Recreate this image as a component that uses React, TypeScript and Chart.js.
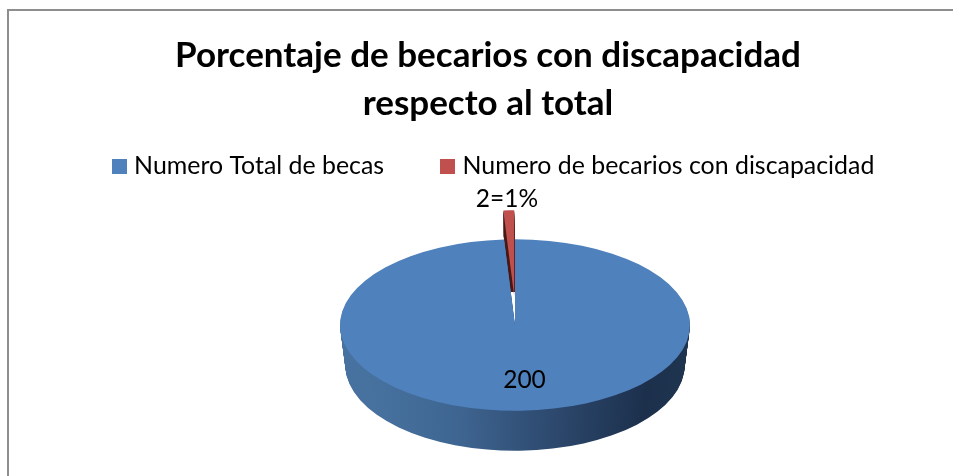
import React, { useEffect, useRef } from "react";
import { Chart, registerables } from "chart.js";

Chart.register(...registerables);

const titleLines = ["Porcentaje de becarios con discapacidad", "respecto al total"];
const categories = ["Numero Total de becas", "Numero de becarios con discapacidad"];
const values = [200, 2];
const percentLabel = ["", "1%"];
const colors = ["#4f81bd", "#c0504d"];

const FONT = "Lato, Carlito, Calibri, sans-serif";
const CX = 515;
const CY = 325;
const FLATTEN = 0.49;
const DEPTH = 40;
const RED_DEPTH = 25;

function swatch(color: string) {
  const c = document.createElement("canvas");
  c.width = 15;
  c.height = 15;
  const g = c.getContext("2d")!;
  g.fillStyle = color;
  g.fillRect(0, 0, 15, 15);
  return c;
}

const pie3d = {
  id: "pie3d",
  afterLayout(chart: any) {
    // the reference legend sits a little right of the title's centre
    chart.legend.left += 15;
  },
  beforeDatasetsDraw(chart: any) {
    const ctx = chart.ctx as CanvasRenderingContext2D;
    const arcs = chart.getDatasetMeta(0).data as any[];
    const blue = arcs[0];
    const red = arcs[1];

    const layer = (arc: any, k: number, fill: any, dx = 0, dy = 0) => {
      const saved = arc.options;
      arc.options = { ...saved, backgroundColor: fill };
      ctx.save();
      ctx.translate(CX + dx, CY + dy + k);
      ctx.scale(1 - (0.03 * k) / DEPTH, FLATTEN);
      ctx.translate(-arc.x, -arc.y);
      arc.draw(ctx);
      ctx.restore();
      arc.options = saved;
    };

    const grad = ctx.createLinearGradient(CX - 175, 0, CX + 175, 0);
    grad.addColorStop(0, "#47729f");
    grad.addColorStop(0.25, "#3f6692");
    grad.addColorStop(0.5, "#2f4c72");
    grad.addColorStop(0.8, "#1c304c");
    grad.addColorStop(1, "#203751");

    const ex = -0.8;
    const ey = -29;
    // the dark inner wall of the pulled-out slice fades before the centre
    ctx.save();
    ctx.beginPath();
    ctx.rect(0, 0, chart.width, CY - 33);
    ctx.clip();
    for (let k = RED_DEPTH; k >= 1; k--) layer(red, k, "#4a1a18", ex, ey);
    ctx.restore();
    for (let k = DEPTH; k >= 1; k--) layer(blue, k, grad);
    layer(blue, 0, colors[0]);
    layer(red, 0, colors[1], ex, ey);

    ctx.save();
    ctx.fillStyle = "#000";
    ctx.font = `24.5px ${FONT}`;
    ctx.textAlign = "center";
    ctx.textBaseline = "middle";
    ctx.fillText(String(values[0]), CX + 9.5, CY + 55.5);
    ctx.fillText(`${values[1]}=${percentLabel[1]}`, CX - 8, CY - 126);
    ctx.restore();
    return false;
  },
};

export default function App() {
  const ref = useRef<HTMLCanvasElement>(null);
  useEffect(() => {
    document.body.style.margin = "0";
    const chart = new Chart(ref.current!, {
      type: "pie",
      data: {
        labels: categories,
        datasets: [
          {
            data: values,
            backgroundColor: colors,
            borderWidth: 0,
            radius: 175,
          } as any,
        ],
      },
      options: {
        animation: false,
        responsive: false,
        layout: { padding: { left: 23, right: 0, top: 0, bottom: 0 } },
        plugins: {
          tooltip: { enabled: false },
          title: {
            display: true,
            text: titleLines,
            color: "#000",
            font: { family: FONT, size: 35, weight: "bold", lineHeight: 48 / 35 },
            padding: { top: 32, bottom: -35 },
          },
          legend: {
            display: true,
            position: "top",
            labels: {
              color: "#000",
              font: { family: FONT, size: 24.9 },
              usePointStyle: true,
              boxWidth: 5,
              boxHeight: 15,
              padding: 61,
              generateLabels() {
                return categories.map((text, i) => ({
                  text,
                  index: i,
                  datasetIndex: 0,
                  fontColor: "#000",
                  fillStyle: colors[i],
                  strokeStyle: colors[i],
                  lineWidth: 0,
                  hidden: false,
                  pointStyle: swatch(colors[i]),
                }));
              },
            },
          },
        },
      } as any,
      plugins: [pie3d],
    });
    return () => chart.destroy();
  }, []);

  return (
    <div style={{ position: "fixed", left: 0, top: 0, width: 953, height: 476, overflow: "hidden", background: "#fff" }}>
      <canvas ref={ref} width={953} height={476} style={{ position: "absolute", left: 0, top: 0, display: "block" }} />
      <div
        style={{
          position: "absolute",
          left: 7,
          top: 9,
          width: 1000,
          height: 600,
          borderLeft: "2px solid #8e8e8e",
          borderTop: "2px solid #8e8e8e",
          pointerEvents: "none",
        }}
      />
    </div>
  );
}
